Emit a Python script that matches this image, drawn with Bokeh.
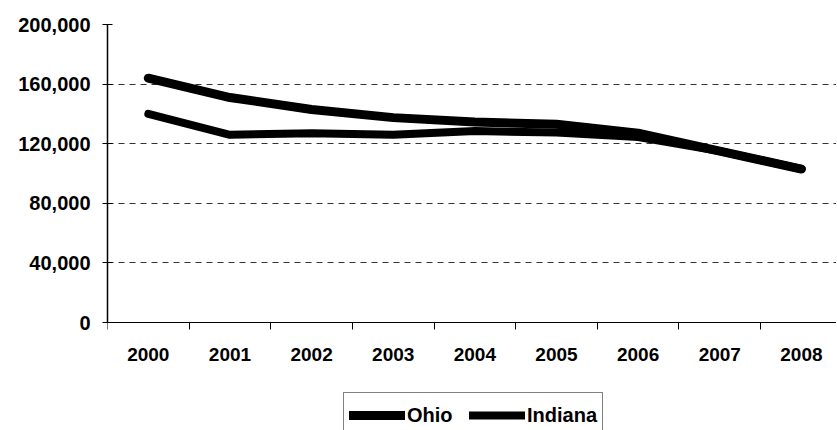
from bokeh.plotting import figure
from bokeh.models import Range1d, FixedTicker, NumeralTickFormatter, Legend, LegendItem
from bokeh.embed import file_html
from bokeh.resources import INLINE

years = ["2000", "2001", "2002", "2003", "2004", "2005", "2006", "2007", "2008"]
ohio = [164000, 151000, 143000, 137500, 134500, 133000, 127000, 115000, 103000]
indiana = [140000, 126000, 127000, 126000, 128500, 127500, 124500, 115000, 103000]
y_ticks = [0, 40000, 80000, 120000, 160000, 200000]

xs = list(range(len(years)))
y_top = 200000
y_bottom = -y_top * 108 / 298  # blank band under the axis for labels and legend

p = figure(frame_width=729, frame_height=406, output_backend="svg", toolbar_location=None,
           x_range=Range1d(-0.5, len(years) - 0.57), y_range=Range1d(y_bottom, y_top),
           min_border_left=107, min_border_right=0, min_border_top=24, min_border_bottom=0)
p.outline_line_color = None
p.background_fill_color = "white"
p.border_fill_color = "white"

r1 = p.line(xs, ohio, line_color="black", line_width=9, line_cap="round", line_join="round")
r2 = p.line(xs, indiana, line_color="black", line_width=8, line_cap="round", line_join="round")

font = "Liberation Sans"

# y axis
p.yaxis.ticker = FixedTicker(ticks=y_ticks)
p.yaxis.bounds = (0, y_top)
p.yaxis.formatter = NumeralTickFormatter(format="0,0")
p.yaxis.major_tick_in = 5
p.yaxis.major_tick_out = 5
p.yaxis.minor_tick_line_color = None
p.yaxis.axis_line_width = 1.5
p.yaxis.axis_line_color = "black"
p.yaxis.major_tick_line_color = "black"
p.yaxis.major_label_text_font = font
p.yaxis.major_label_text_font_style = "bold"
p.yaxis.major_label_text_font_size = "20px"
p.yaxis.major_label_text_color = "black"
p.yaxis.major_label_standoff = 12

# x axis, pinned at y = 0
p.xaxis.fixed_location = 0
p.xaxis.ticker = FixedTicker(ticks=xs, minor_ticks=[i - 0.5 for i in xs])
p.xaxis.major_label_overrides = {i: y for i, y in enumerate(years)}
p.xaxis.major_tick_in = 0
p.xaxis.major_tick_out = 0
p.xaxis.minor_tick_in = 0
p.xaxis.minor_tick_out = 7
p.xaxis.minor_tick_line_color = "black"
p.xaxis.axis_line_color = "black"
p.xaxis.axis_line_width = 1.2
p.xaxis.major_label_text_font = font
p.xaxis.major_label_text_font_style = "bold"
p.xaxis.major_label_text_font_size = "19px"
p.xaxis.major_label_text_color = "black"
p.xaxis.major_label_standoff = 18

p.xgrid.grid_line_color = None
p.ygrid.ticker = FixedTicker(ticks=y_ticks[1:])
p.ygrid.grid_line_color = "#333333"
p.ygrid.grid_line_dash = "6 5"
p.ygrid.grid_line_width = 1

legend = Legend(items=[LegendItem(label="Ohio", renderers=[r1]),
                       LegendItem(label="Indiana", renderers=[r2])],
                orientation="horizontal", location=(236, -8))
legend.label_text_font = font
legend.label_text_font_style = "bold"
legend.label_text_font_size = "20px"
legend.label_text_color = "black"
legend.glyph_width = 56
legend.label_standoff = 2
legend.spacing = 12
legend.padding = 5
legend.margin = 0
legend.border_line_color = "black"
legend.border_line_width = 1.2
legend.label_height = 34
legend.glyph_height = 34
legend.label_width = 50
p.add_layout(legend)

open("out.html", "w").write(file_html(p, INLINE))
